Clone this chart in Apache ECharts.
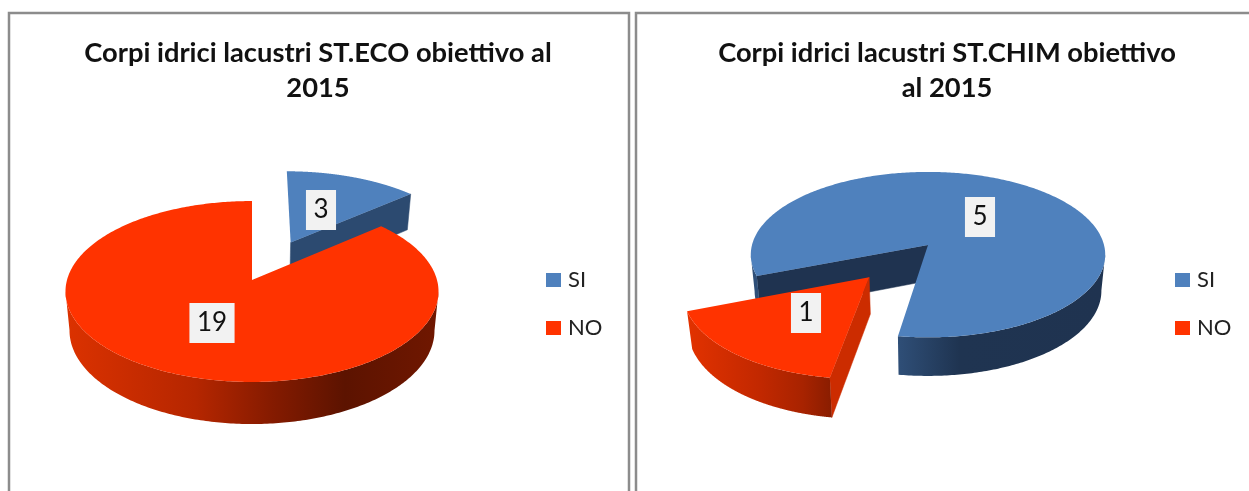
<!DOCTYPE html>
<html>
<head>
<meta charset="utf-8">
<style>html,body{margin:0;padding:0;background:#fff}#c{width:1249px;height:491px}</style>
<script src="https://cdn.jsdelivr.net/npm/echarts@6/dist/echarts.min.js"></script>
</head>
<body>
<div id="c"></div>
<script>
// ---- data ----
const categories = ['SI', 'NO'];
const ecoValues = [3, 19];
const chimValues = [5, 1];
const ecoTitle = 'Corpi idrici lacustri ST.ECO obiettivo al\n2015';
const chimTitle = 'Corpi idrici lacustri ST.CHIM obiettivo\nal 2015';

// ---- layout and style, kept apart from the data ----
const FONT = 'Lato';
const BLUE = '#4f81bd', RED = '#ff3300';
const view = {
  eco:  {cx: 252, cy: 280, R: 185, a: 89, b: -0.127, d: 39.5, first: 0, explode: [0.49, 0], nudge: [3, 0], labels: [[321, 210], [212, 323]]},
  chim: {cx: 928, cy: 245, R: 176, a: 81.6, b: -0.1166, d: 36.6, first: 248.7, explode: [0, 0.485], nudge: [0, -3], labels: [[980, 217], [806, 313]]}
};
const SHRINK = 1.022;
const paint = {
  eco: [
    {top: BLUE, wall: '#2c4a70', stops: [[0, '#2c4a70'], [1, '#2c4a70']], span: [287, 410]},
    {top: RED, wall: '#c42a00', stops: [[0, '#dc3200'], [0.35, '#b52600'], [0.55, '#861b00'], [0.75, '#5c1300'], [1, '#701700']], span: [65, 438]}
  ],
  chim: [
    {top: BLUE, wall: '#1f3350', stops: [[0, '#2f4f78'], [0.3, '#1f3451'], [1, '#1f3350']], span: [897, 1105]},
    {top: RED, wall: '#cc2c00', stops: [[0, '#e23200'], [0.5, '#c22800'], [0.8, '#a82300'], [1, '#8a1d00']], span: [688, 831]}
  ]
};

const rad = d => d * Math.PI / 180;

function project(v, X, Y, low, i) {
  const w = (1 + v.b * Y) * (low ? SHRINK : 1);
  return [v.cx + v.nudge[i] + v.R * X / w, v.cy + (v.a * Y + (low ? v.d : 0)) / w];
}

function sliceRender(key, values, i) {
  return function (params, api) {
    const v = view[key], p = paint[key][i];
    const total = values.reduce((s, n) => s + n, 0);
    const before = values.slice(0, i).reduce((s, n) => s + n, 0);
    const value = api.value(0);
    const start = v.first + before / total * 360;
    const end = start + value / total * 360;
    const mid = (start + end) / 2;
    const ex = v.explode[i] * Math.sin(rad(mid)), ey = -v.explode[i] * Math.cos(rad(mid));
    const rim = [];
    for (let t = 0; t <= 400; t++) {
      const ang = rad(start + (end - start) * t / 400);
      rim.push([ex + Math.sin(ang), ey - Math.cos(ang)]);
    }
    const top = q => project(v, q[0], q[1], false, i);
    const low = q => project(v, q[0], q[1], true, i);
    const centre = [ex, ey];
    const kids = [];
    const grad = new echarts.graphic.LinearGradient(p.span[0], 0, p.span[1], 0,
      p.stops.map(s => ({offset: s[0], color: s[1]})), true);

    // flat cut faces, only those turned towards the viewer
    [[centre, rim[0]], [rim[rim.length - 1], centre]].forEach(edge => {
      const A = top(edge[0]), B = top(edge[1]);
      if (B[0] - A[0] < -0.1 * Math.abs(B[1] - A[1])) {
        kids.push({type: 'polygon', shape: {points: [A, B, low(edge[1]), low(edge[0])]},
          style: {fill: p.wall, stroke: p.wall, lineWidth: 0.5}});
      }
    });
    // curved side: runs of the rim that travel leftwards on screen
    let run = [];
    const flush = () => {
      if (run.length > 1) {
        kids.push({type: 'polygon',
          shape: {points: run.map(top).concat(run.slice().reverse().map(low))},
          style: {fill: grad}});
      }
      run = [];
    };
    for (let t = 1; t < rim.length; t++) {
      if (top(rim[t])[0] < top(rim[t - 1])[0]) {
        if (!run.length) run.push(rim[t - 1]);
        run.push(rim[t]);
      } else flush();
    }
    flush();
    // upper face
    kids.push({type: 'polygon', shape: {points: [top(centre)].concat(rim.map(top))},
      style: {fill: p.top}});
    // value label
    const at = v.labels[i];
    kids.push({type: 'text', z2: 10, style: {
      text: String(value), x: at[0], y: at[1], align: 'center', verticalAlign: 'middle',
      fontFamily: FONT, fontSize: 26, lineHeight: 26, fill: '#111',
      backgroundColor: '#f2f2f2', padding: [7, 7.5]
    }});
    return {type: 'group', children: kids};
  };
}

function sliceSeries(key, values) {
  return categories.map((name, i) => ({
    type: 'custom', name, coordinateSystem: 'none', silent: true,
    animation: false,
    itemStyle: {color: i === 0 ? BLUE : RED},
    data: [[values[i]]],
    renderItem: sliceRender(key, values, i)
  }));
}

function legendAt(left) {
  return {
    data: categories, orient: 'vertical', left, top: 269, itemWidth: 15, itemHeight: 14,
    itemGap: 26, padding: 0, icon: 'rect', selectedMode: false,
    textStyle: {fontFamily: FONT, fontSize: 22, color: '#222', padding: [0, 0, 0, 2]}
  };
}

function titleAt(text, cx) {
  return {
    text, left: cx, top: 31, textAlign: 'center',
    textStyle: {fontFamily: FONT, fontSize: 27.3, fontWeight: 'bold', color: '#111', lineHeight: 35}
  };
}

const frame = (x, w) => ({type: 'rect', silent: true, z: -1,
  shape: {x, y: 13, width: w, height: 500},
  style: {fill: '#fff', stroke: '#8c8c8c', lineWidth: 2.5}});

const chart = echarts.init(document.getElementById('c'), null, {renderer: 'canvas'});
chart.setOption({
  animation: false,
  backgroundColor: '#fff',
  title: [titleAt(ecoTitle, 313), titleAt(chimTitle, 942)],
  legend: [legendAt(546), legendAt(1175)],
  graphic: [frame(9, 620), frame(636, 640)],
  series: sliceSeries('eco', ecoValues).concat(sliceSeries('chim', chimValues))
});
</script>
</body>
</html>
